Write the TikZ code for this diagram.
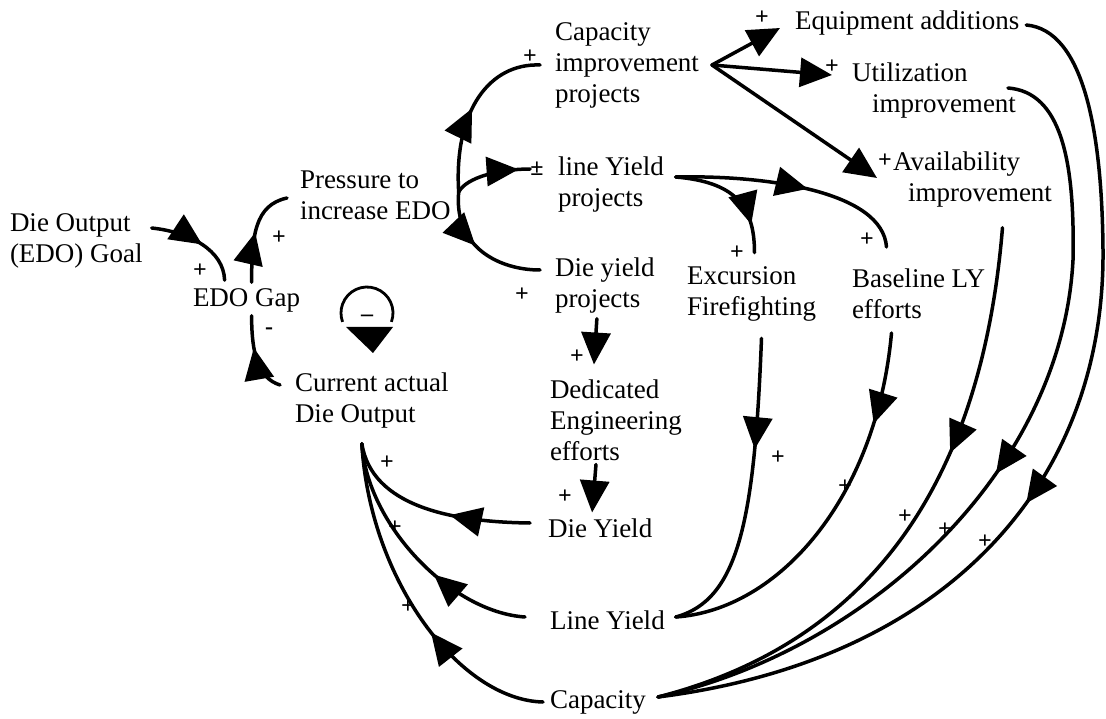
\documentclass[tikz,border=0pt]{standalone}
\usepackage{fontspec}
\setmainfont{Liberation Serif}
\usetikzlibrary{arrows.meta,positioning,decorations.markings}
\definecolor{inkblack}{HTML}{000000}
\tikzset{
  >={Triangle[length=32pt,width=29pt]},
  varbox/.style={anchor=west, align=left, inner sep=0pt, outer sep=0pt,
    font=\fontsize{27}{31}\selectfont, text=inkblack},
  pol/.style={inner sep=0pt, font=\fontsize{24}{28}\selectfont\bfseries, text=inkblack},
  link/.style={line width=3.5pt, draw=inkblack, line cap=round},
  midarrow/.style={postaction={decorate, decoration={markings,
      mark=at position #1 with {\arrow{Triangle[length=32pt,width=29pt]}}}}}
}

\begin{document}
\begin{tikzpicture}[x=1pt,y=-1pt]
\useasboundingbox[fill=white] (0,0) rectangle (1106,719);
% variables
\node[varbox] (goal) at (10,241) {Die Output\\(EDO) Goal};
\node[varbox] (gap) at (193,300) {EDO Gap};
\node[varbox] (press) at (300,195) {Pressure to\\increase EDO};
\node[varbox] (curr) at (295,401) {Current actual\\Die Output};
\node[varbox] (cap) at (555,65) {Capacity\\improvement\\projects};
\node[varbox] (ly) at (558,185) {line Yield\\projects};
\node[varbox] (dy) at (555,286) {Die yield\\projects};
\node[varbox] (ded) at (550,420) {Dedicated\\Engineering\\efforts};
\node[varbox] (dyield) at (548,528) {Die Yield};
\node[varbox] (lyield) at (550,620) {Line Yield};
\node[varbox] (capa) at (550,702) {Capacity};
\node[varbox] (exc) at (687,294) {Excursion\\Firefighting};
\node[varbox] (base) at (852,294) {Baseline LY\\efforts};
\node[varbox] (equip) at (795,23) {Equipment additions};
\node[varbox] (util) at (852,91) {Utilization\\\hspace*{20pt}improvement};
\node[varbox] (avail) at (893,180) {Availability\\\hspace*{15pt}improvement};
% polarities
\node[pol] (pm) at (537,169) {±};
\node[pol] (pgap) at (200,271) {+};
\node[pol] (ppress) at (279,238) {+};
\node[pol] (pcurr) at (269,331) {-};
\node[pol] (pcap) at (530,57) {+};
\node[pol] (pdy) at (522,295) {+};
\node[pol] (pequip) at (762,18) {+};
\node[pol] (putil) at (832,67) {+};
\node[pol] (pavail) at (885,161) {+};
\node[pol] (pexc) at (737,253) {+};
\node[pol] (pbase) at (867,240) {+};
\node[pol] (pded) at (577,357) {+};
\node[pol] (pdyield) at (565,497) {+};
\node[pol] (pc1) at (387,463) {+};
\node[pol] (pc2) at (395,528) {+};
\node[pol] (pc3) at (408,607) {+};
\node[pol] (pl1) at (778,458) {+};
\node[pol] (pl2) at (845,487) {+};
\node[pol] (pk1) at (905,517) {+};
\node[pol] (pk2) at (945,530) {+};
\node[pol] (pk3) at (985,542) {+};
% balancing loop
\coordinate (loopc) at (367,313);
\draw[line width=2.8pt] ([shift={(20:26)}]loopc) arc[start angle=20, end angle=-200, radius=26];
\fill[inkblack] ([shift={(-21,14)}]loopc) -- ([shift={(26,14)}]loopc) -- ([shift={(6,40)}]loopc) -- cycle;
\node[pol] (loopsign) at ([shift={(0,5)}]loopc) {--};
% goal gap loop
\draw[link, midarrow=0.55] ([shift={(9,-13)}]goal.east) .. controls +(38,4) and +(-1,-30) .. ([shift={(-22,-8)}]gap.north);
\draw[link, midarrow=0.5] ([shift={(5,-6)}]gap.north) .. controls +(0,-47) and +(-32,7) .. ([shift={(-13,3)}]press.west);
\draw[link, midarrow=0.6] ([shift={(-15,-16)}]curr.west) .. controls +(-22,-7) and +(0,38) .. ([shift={(5,4)}]gap.south);
% pressure to projects
\draw[link, midarrow=0.5] ([shift={(8,-3)}]press.east) .. controls +(-5,-82) and +(-50,-2) .. ([shift={(-15,0)}]cap.west);
\draw[link, midarrow=0.85] ([shift={(8,-3)}]press.east) .. controls +(8,-15) and +(-30,0) .. (pm.west);
\draw[link, midarrow=0.45] ([shift={(8,-3)}]press.east) .. controls +(-5,56) and +(-40,0) .. ([shift={(-15,-16)}]dy.west);
% capacity projects
\draw[link,->] ([shift={(13,0)}]cap.east) -- ([shift={(-15,5)}]equip.west);
\draw[link,->] ([shift={(13,0)}]cap.east) -- ([shift={(-20,-16)}]util.west);
\draw[link,->] ([shift={(13,0)}]cap.east) -- ([shift={(-16,-2)}]avail.west);
% line yield projects
\draw[link, midarrow=0.56] ([shift={(12,-8)}]ly.east) .. controls +(93,-2) and +(-4,-55) .. ([shift={(-32,-22)}]base.north);
\draw[link, midarrow=0.77] ([shift={(12,-8)}]ly.east) .. controls +(58,5) and +(0,-48) .. ([shift={(3,-14)}]exc.north);
% die yield projects
\draw[link,->] ([shift={(-8,5)}]dy.south) -- ([shift={(-22,-15)}]ded.north);
\draw[link,->] ([shift={(-20,4)}]ded.south) -- ([shift={(-8,-6)}]dyield.north);
% into output
\draw[link, midarrow=0.4] ([shift={(-18,-5)}]dyield.west) .. controls +(-80,-1) and +(10,62) .. ([shift={(-10,15)}]curr.south);
\draw[link, midarrow=0.4] ([shift={(-25,-3)}]lyield.west) .. controls +(-75,-5) and +(5,80) .. ([shift={(-10,15)}]curr.south);
\draw[link, midarrow=0.4] ([shift={(-7,0)}]capa.west) .. controls +(-83,-2) and +(8,137) .. ([shift={(-10,15)}]curr.south);
% into line yield
\draw[link, midarrow=0.36] ([shift={(10,17)}]exc.south) .. controls +(-7,182) and +(63,-17) .. ([shift={(11,-3)}]lyield.east);
\draw[link, midarrow=0.24] ([shift={(-27,14)}]base.south) .. controls +(-15,165) and +(103,-7) .. ([shift={(11,-3)}]lyield.east);
% into capacity
\draw[link, midarrow=0.37] ([shift={(30,20)}]avail.south) .. controls +(-20,243) and +(222,-57) .. ([shift={(12,-5)}]capa.east);
\draw[link, midarrow=0.51] ([shift={(-8,-3)}]util.east) .. controls +(53,4) and +(2,-100) .. (1073,260) .. controls +(-11,210) and +(212,-47) .. ([shift={(12,-5)}]capa.east);
\draw[link, midarrow=0.55] ([shift={(7,2)}]equip.east) .. controls +(57,5) and +(-1,-120) .. (1103,250) .. controls +(2,230) and +(292,-37) .. ([shift={(12,-5)}]capa.east);
\end{tikzpicture}
\end{document}
